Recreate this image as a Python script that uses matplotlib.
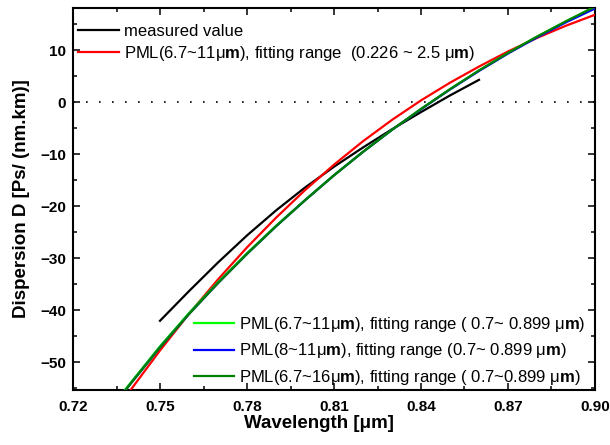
import matplotlib
matplotlib.use("Agg")
import matplotlib.pyplot as plt
from matplotlib.ticker import MultipleLocator

plt.rcParams['font.family'] = ['Liberation Sans', 'DejaVu Sans']
plt.rcParams['mathtext.fontset'] = 'custom'
plt.rcParams['mathtext.rm'] = 'Liberation Sans'
plt.rcParams['mathtext.bf'] = 'Liberation Sans:bold'
plt.rcParams['mathtext.it'] = 'Liberation Sans:italic'

# values
wl_meas = [0.75, 0.76, 0.77, 0.78, 0.79, 0.80, 0.81, 0.82, 0.83, 0.84, 0.85, 0.86]
d_meas = [-42.0, -36.3, -30.8, -25.6, -20.8, -16.4, -12.4, -8.7, -5.2, -1.9, 1.3, 4.3]

wl_red = [0.739, 0.74, 0.75, 0.76, 0.77, 0.78, 0.79, 0.80, 0.81, 0.82, 0.83, 0.84, 0.85,
          0.86, 0.87, 0.88, 0.89, 0.90]
d_red = [-56.0, -55.2, -47.7, -40.65, -34.05, -27.9, -22.2, -16.9, -12.0, -7.5, -3.4, 0.35, 3.75,
         6.85, 9.75, 12.35, 14.7, 16.8]

wl_fit = [0.737, 0.74, 0.75, 0.76, 0.77, 0.78, 0.79, 0.80, 0.81, 0.82, 0.83, 0.84,
          0.85, 0.86, 0.87, 0.88, 0.89, 0.90]
d_lgreen = [-55.9, -53.8, -46.9, -40.5, -34.6, -29.0, -23.75, -18.8, -14.0, -9.5, -5.3, -1.3,
            2.5, 6.1, 9.45, 12.6, 15.55, 18.35]
d_blue = [-56.1, -54.0, -47.1, -40.7, -34.75, -29.15, -23.85, -18.85, -14.05, -9.55, -5.3, -1.35,
          2.45, 6.0, 9.35, 12.45, 15.35, 18.0]
d_dgreen = [-56.1, -54.0, -47.1, -40.7, -34.75, -29.15, -23.85, -18.85, -14.05, -9.55, -5.3, -1.3,
            2.5, 6.1, 9.45, 12.6, 15.55, 18.35]

um = "\u03bc"
lab_meas = "measured value"
lab_red = "PML(6.7~11" + um + r"$\mathbf{m}$), fitting range  (0.226 ~ 2.5 " + um + r"$\mathbf{m}$)"
lab_lgreen = "PML(6.7~11" + um + r"$\mathbf{m}$), fitting range ( 0.7~ 0.899 " + um + r"$\mathbf{m}$)"
lab_blue = "PML(8~11" + um + r"$\mathbf{m}$), fitting range (0.7~ 0.899 " + um + r"$\mathbf{m}$)"
lab_dgreen = "PML(6.7~16" + um + r"$\mathbf{m}$), fitting range ( 0.7~0.899 " + um + r"$\mathbf{m}$)"

fig = plt.figure(figsize=(6.1, 4.45), dpi=100)
ax = fig.add_axes([0.1197, 0.1236, 0.8557, 0.8584])

ax.axhline(0, color='black', lw=1.2, linestyle=(0, (1, 6.8)), zorder=1)

h_meas, = ax.plot(wl_meas, d_meas, color='black', lw=1.6, label=lab_meas, zorder=2)
h_red, = ax.plot(wl_red, d_red, color='#ff0000', lw=1.6, label=lab_red, zorder=3)
h_lg, = ax.plot(wl_fit, d_lgreen, color='#00ff00', lw=1.6, label=lab_lgreen, zorder=4)
h_bl, = ax.plot(wl_fit, d_blue, color='#0000ff', lw=1.6, label=lab_blue, zorder=5)
h_dg, = ax.plot(wl_fit, d_dgreen, color='#008000', lw=1.6, label=lab_dgreen, zorder=6)

ax.set_xlim(0.72, 0.90)
ax.set_ylim(-55.3, 18.1)

ax.xaxis.set_minor_locator(MultipleLocator(0.015))
ax.yaxis.set_major_locator(MultipleLocator(10))
ax.yaxis.set_minor_locator(MultipleLocator(5))
ax.set_xticks([0.72, 0.75, 0.78, 0.81, 0.84, 0.87, 0.90])
ax.set_xticklabels(['0.72', '0.75', '0.78', '0.81', '0.84', '0.87', '0.90'])

ax.tick_params(which='both', direction='in', top=True, right=True, width=1.1)
ax.tick_params(which='major', length=5)
ax.tick_params(which='minor', length=3)
ax.tick_params(axis='x', pad=7)
ax.tick_params(axis='y', pad=5)
for lab in ax.get_xticklabels() + ax.get_yticklabels():
    lab.set_fontweight('bold')
    lab.set_fontsize(11)
for sp in ax.spines.values():
    sp.set_linewidth(1.5)

ax.set_xlabel("Wavelength [" + um + "m]", fontsize=13.5, fontweight='bold')
ax.set_ylabel("Dispersion D [Ps/ (nm.km)]", fontsize=13.5, fontweight='bold')
ax.xaxis.set_label_coords(0.471, -0.066)
ax.yaxis.set_label_coords(-0.083, 0.5)

leg1 = ax.legend(handles=[h_meas, h_red], loc='upper left', bbox_to_anchor=(0.0, 0.971),
                 frameon=False, fontsize=12, handlelength=2.45, handletextpad=0.3,
                 labelspacing=0.3, borderaxespad=0.0, borderpad=0.3)
ax.add_artist(leg1)
ax.legend(handles=[h_lg, h_bl, h_dg], loc='lower right', bbox_to_anchor=(1.0, -0.018),
          frameon=False, fontsize=12, handlelength=2.4, handletextpad=0.3,
          labelspacing=0.45, borderaxespad=0.3, borderpad=0.3)

fig.savefig("out.png", dpi=100)
